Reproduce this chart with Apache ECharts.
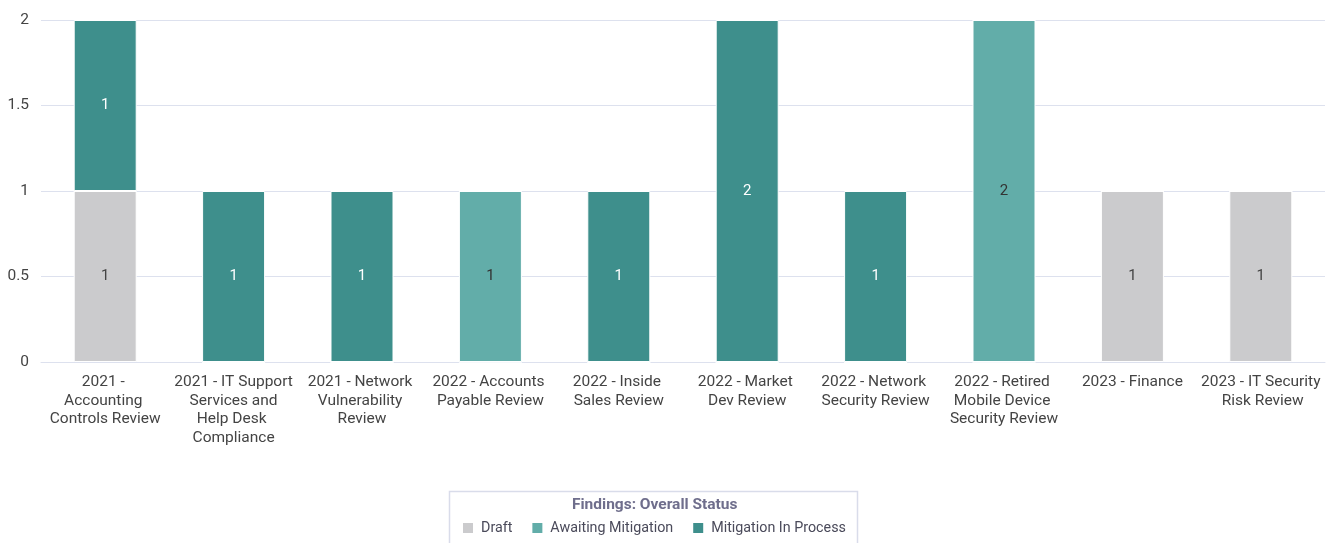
<!DOCTYPE html>
<html>
<head>
<meta charset="utf-8">
<script src="https://cdn.jsdelivr.net/npm/echarts@6/dist/echarts.min.js"></script>
<style>
html,body{margin:0;padding:0;background:#fff;}
#chart{width:1340px;height:543px;}
</style>
</head>
<body>
<div id="chart"></div>
<script>
const categories = [
  "2021 - Accounting Controls Review",
  "2021 - IT Support Services and Help Desk Compliance",
  "2021 - Network Vulnerability Review",
  "2022 - Accounts Payable Review",
  "2022 - Inside Sales Review",
  "2022 - Market Dev Review",
  "2022 - Network Security Review",
  "2022 - Retired Mobile Device Security Review",
  "2023 - Finance",
  "2023 - IT Security Risk Review"
];
const draft = [1, 0, 0, 0, 0, 0, 0, 0, 1, 1];
const awaiting = [0, 0, 0, 1, 0, 0, 0, 2, 0, 0];
const mitigation = [1, 1, 1, 0, 1, 2, 1, 0, 0, 0];
const yTicks = [0, 0.5, 1, 1.5, 2];
const legendTitle = "Findings: Overall Status";

const font = "Roboto, 'Noto Sans', sans-serif";
function mk(name, data, color, labelColor) {
  return {
    name: name, type: 'bar', stack: 'total', data: data, barWidth: 63,
    itemStyle: { color: color, borderColor: '#ffffff', borderWidth: 1 },
    label: {
      show: true, position: 'inside', color: labelColor, fontSize: 15, fontFamily: font,
      formatter: p => (p.value ? String(p.value) : '')
    },
    emphasis: { disabled: true }
  };
}
const chart = echarts.init(document.getElementById('chart'), null, { renderer: 'canvas' });
chart.setOption({
  animation: false,
  backgroundColor: '#ffffff',
  grid: { left: 41, right: 15, top: 20, bottom: 181, containLabel: false },
  title: {
    text: legendTitle, left: 567, top: 492,
    textStyle: { fontSize: 15.5, fontWeight: 'bold', color: '#6f6e8c', fontFamily: font }
  },
  legend: {
    top: 516, left: 456, itemWidth: 12, itemHeight: 12, itemGap: 18,
    icon: 'rect',
    textStyle: { fontSize: 14.3, color: '#4a4a5a', fontFamily: font, padding: [0, 0, 0, 2] },
    data: ['Draft', 'Awaiting Mitigation', 'Mitigation In Process']
  },
  graphic: [{
    type: 'rect', left: 447, top: 489,
    shape: { width: 408, height: 60 },
    style: { fill: 'none', stroke: '#d9dcea', lineWidth: 1.5 }, z: -1
  }],
  xAxis: {
    type: 'category', data: categories,
    axisLine: { show: true, lineStyle: { color: '#dde1ee' } },
    axisTick: { show: false },
    axisLabel: {
      interval: 0, width: 121.5, overflow: 'break', fontSize: 15.5, lineHeight: 18.5,
      color: '#444', fontFamily: font, margin: 11
    }
  },
  yAxis: {
    type: 'value', min: yTicks[0], max: yTicks[yTicks.length - 1], interval: 0.5,
    axisLine: { show: false }, axisTick: { show: false },
    splitLine: { lineStyle: { color: '#dde1ee', width: 1 } },
    axisLabel: { fontSize: 15.5, color: '#444', fontFamily: font, margin: 12 }
  },
  series: [
    mk('Draft', draft, '#cbcbcd', '#444'),
    mk('Awaiting Mitigation', awaiting, '#62ada9', '#333'),
    mk('Mitigation In Process', mitigation, '#3e8f8c', '#ffffff')
  ]
});
</script>
</body>
</html>
